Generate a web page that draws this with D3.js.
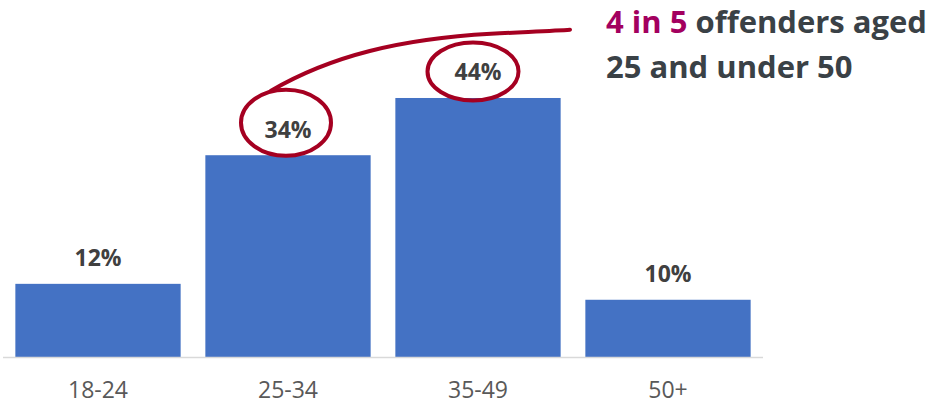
<!DOCTYPE html>
<html>
<head>
<meta charset="utf-8">
<script src="https://cdn.jsdelivr.net/npm/d3@7"></script>
<style>
  body { margin: 0; background: #fff; }
  svg { display: block; font-family: "Open Sans", sans-serif; }
</style>
</head>
<body>
<div id="chart"></div>
<script>
const ageGroups = ["18-24", "25-34", "35-49", "50+"];
const shares = [12.4, 34.2, 43.9, 9.7]; // percent of offenders
const shareLabels = ["12%", "34%", "44%", "10%"];
const circled = ["25-34", "35-49"];
const calloutLead = "4 in 5";
const calloutRest = " offenders aged";
const calloutLine2 = "25 and under 50";

const width = 933, height = 405;
const baseline = 357;

const svg = d3.select("#chart")
  .append("svg")
  .attr("width", width)
  .attr("height", height);

const x = d3.scaleBand()
  .domain(ageGroups)
  .range([3, 763])
  .paddingInner(0.13)
  .paddingOuter(0.065);

const y = d3.scaleLinear()
  .domain([0, 50])
  .range([baseline, baseline - 295]);

// bars
svg.selectAll("rect.bar")
  .data(ageGroups)
  .enter()
  .append("rect")
  .attr("class", "bar")
  .attr("x", d => x(d))
  .attr("width", x.bandwidth())
  .attr("y", (d, i) => y(shares[i]))
  .attr("height", (d, i) => y(0) - y(shares[i]))
  .attr("fill", "#4472c4");

// x axis line + category labels
svg.append("line")
  .attr("x1", 3).attr("x2", 763)
  .attr("y1", baseline + 0.5).attr("y2", baseline + 0.5)
  .attr("stroke", "#d9d9d9")
  .attr("stroke-width", 1.5);

const xAxis = d3.axisBottom(x).tickSize(0).tickPadding(0);
const axisG = svg.append("g")
  .attr("transform", `translate(0, ${baseline})`)
  .call(xAxis);
axisG.select(".domain").remove();
axisG.selectAll("text")
  .attr("dy", null)
  .attr("y", 41)
  .style("font-family", "'Open Sans', sans-serif")
  .style("font-size", "23px")
  .style("fill", "#595959");

// value labels
svg.selectAll("text.value")
  .data(ageGroups)
  .enter()
  .append("text")
  .attr("class", "value")
  .attr("x", d => x(d) + x.bandwidth() / 2)
  .attr("y", (d, i) => y(shares[i]) - 17.5)
  .attr("text-anchor", "middle")
  .style("font-size", "23px")
  .style("font-weight", "bold")
  .style("fill", "#404040")
  .text((d, i) => shareLabels[i]);

// hand-drawn rings round the two middle labels
const ringColor = "#a50021";
const ringShape = { "25-34": { dx: -2, dy: -15, rx: 45, ry: 33 }, "35-49": { dx: -5, dy: -9, rx: 45.5, ry: 29 } };
svg.selectAll("ellipse.ring")
  .data(circled)
  .enter()
  .append("ellipse")
  .attr("class", "ring")
  .attr("cx", d => x(d) + x.bandwidth() / 2 + ringShape[d].dx)
  .attr("cy", d => y(shares[ageGroups.indexOf(d)]) - 17.5 + ringShape[d].dy)
  .attr("rx", d => ringShape[d].rx)
  .attr("ry", d => ringShape[d].ry)
  .attr("fill", "none")
  .attr("stroke", ringColor)
  .attr("stroke-width", 4);

// swoosh from the first ring to the callout text
const startX = x("25-34") + x.bandwidth() / 2 - 17;
const startY = y(shares[1]) - 17.5 - 47;
const swoosh = d3.path();
swoosh.moveTo(startX, startY);
swoosh.bezierCurveTo(startX + 60, startY - 35, startX + 130, startY - 52, startX + 220, startY - 57);
swoosh.bezierCurveTo(startX + 260, startY - 59, startX + 285, startY - 60, startX + 299, startY - 61);
svg.append("path")
  .attr("d", swoosh.toString())
  .attr("fill", "none")
  .attr("stroke", ringColor)
  .attr("stroke-width", 4)
  .attr("stroke-linecap", "round");

// callout text
const callout = svg.append("text")
  .attr("x", 606)
  .attr("y", 33)
  .style("font-size", "31px")
  .style("font-weight", "bold")
  .style("fill", "#3a4146");
callout.append("tspan").style("fill", "#a3005f").text(calloutLead);
callout.append("tspan").text(calloutRest);
svg.append("text")
  .attr("x", 606)
  .attr("y", 78)
  .style("font-size", "31px")
  .style("font-weight", "bold")
  .style("fill", "#3a4146")
  .text(calloutLine2);
</script>
</body>
</html>
